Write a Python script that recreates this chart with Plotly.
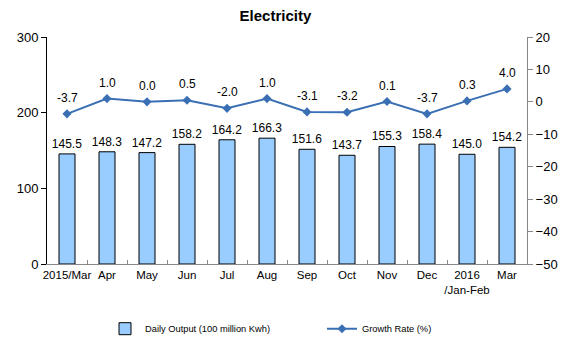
import plotly.graph_objects as go

months = ["2015/Mar", "Apr", "May", "Jun", "Jul", "Aug", "Sep", "Oct", "Nov", "Dec",
          "2016<br>/Jan-Feb", "Mar"]
daily_output = [145.5, 148.3, 147.2, 158.2, 164.2, 166.3, 151.6, 143.7, 155.3, 158.4, 145.0, 154.2]
growth_rate = [-3.7, 1.0, 0.0, 0.5, -2.0, 1.0, -3.1, -3.2, 0.1, -3.7, 0.3, 4.0]

FONT = "Liberation Sans, Arial, sans-serif"

fig = go.Figure()

fig.add_trace(go.Bar(
    x=months, y=daily_output,
    name="Daily Output (100 million Kwh)",
    marker=dict(color="#99CCFF", line=dict(color="#000000", width=1)),
    width=0.4,
    text=[f"{v:.1f}" for v in daily_output],
    textposition="outside",
    constraintext="none",
    textfont=dict(size=12, color="#000000", family=FONT),
    cliponaxis=False,
    yaxis="y",
    legend="legend",
))

fig.add_trace(go.Scatter(
    x=months, y=growth_rate,
    name="Growth Rate (%)",
    mode="lines+markers",
    line=dict(color="#3A6FB4", width=2),
    marker=dict(symbol="diamond", size=7, color="#3A6FB4"),
    cliponaxis=False,
    yaxis="y2",
    legend="legend2",
))

# value labels above the growth-rate markers
for m, g in zip(months, growth_rate):
    fig.add_annotation(x=m, y=g, xref="x", yref="y2", text=f"{g:.1f}",
                       showarrow=False, yshift=16,
                       font=dict(size=12, color="#000000", family=FONT))

legend_common = dict(orientation="h", xanchor="left", y=-0.285, yanchor="middle",
                     font=dict(size=9.3, family=FONT, color="#000000"),
                     bgcolor="rgba(0,0,0,0)", itemwidth=30)

fig.update_layout(
    width=568, height=339,
    margin=dict(l=47, r=41, t=37, b=75, autoexpand=False),
    paper_bgcolor="white", plot_bgcolor="white",
    font=dict(family=FONT, size=12, color="#000000"),
    title=dict(text="<b>Electricity</b>", x=0.485, xanchor="center", y=0.955, yanchor="middle",
               font=dict(size=15, family=FONT, color="#000000")),
    showlegend=True,
    legend=dict(x=(105 - 47) / 480, **legend_common),
    legend2=dict(x=(322 - 47) / 480, **legend_common),
    xaxis=dict(
        type="category", showline=True, linecolor="#888888", linewidth=1,
        ticks="inside", ticklen=4, tickcolor="#888888", tickson="boundaries",
        showgrid=False, tickfont=dict(size=11.5), range=[-0.5, 11.5],
        tickangle=0, automargin=False,
    ),
    yaxis=dict(
        range=[0, 300], tickvals=[0, 100, 200, 300], showline=True, linecolor="#000000",
        linewidth=1, ticks="outside", ticklen=5, tickcolor="#000000", showgrid=False,
        zeroline=False, tickfont=dict(size=13), automargin=False,
    ),
    yaxis2=dict(
        range=[-50, 20], tickvals=list(range(-50, 21, 10)), overlaying="y", side="right",
        showline=True, linecolor="#888888", linewidth=1, ticks="outside", ticklen=5,
        tickcolor="#888888", showgrid=False, zeroline=False, tickfont=dict(size=13),
        automargin=False,
    ),
)

fig.write_html("out.html")
